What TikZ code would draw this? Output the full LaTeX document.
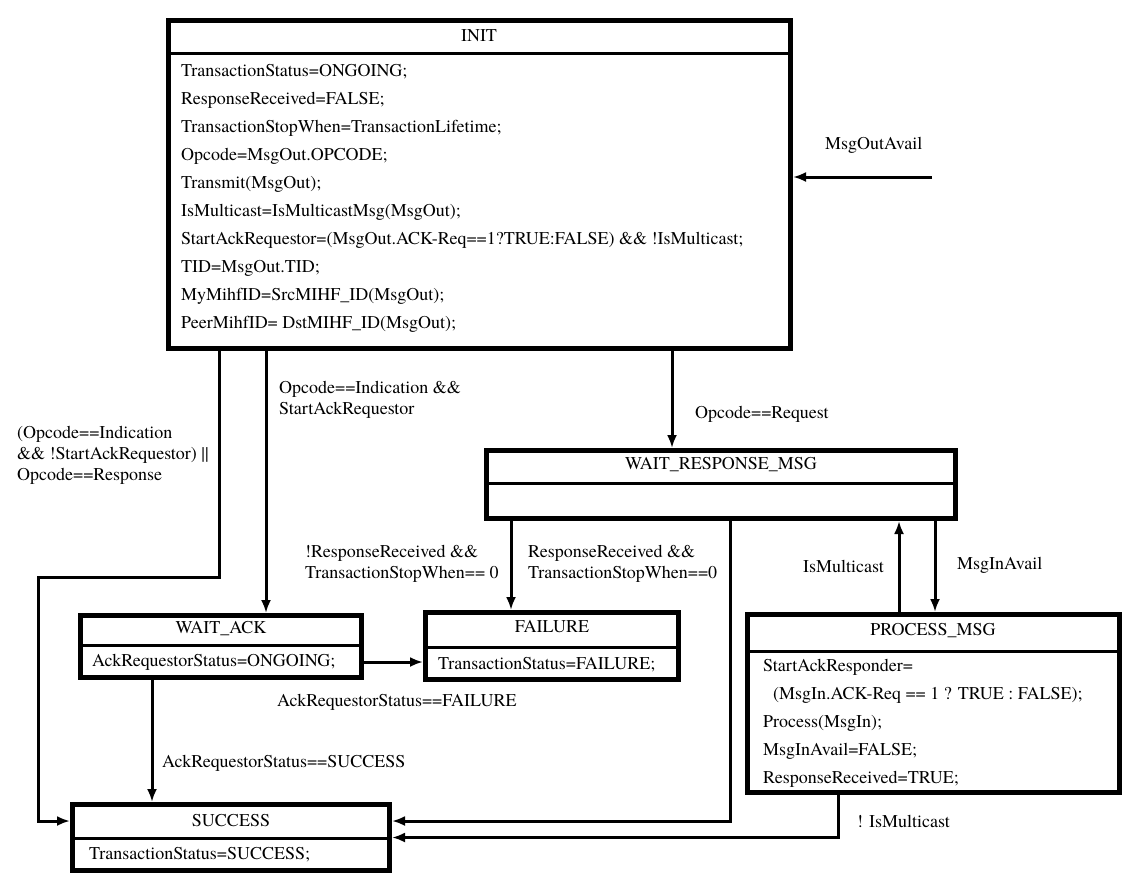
\documentclass[tikz,border=0pt]{standalone}
\usepackage{fontspec}
\setmainfont{texgyretermes}[Extension=.otf, UprightFont=*-regular, BoldFont=*-bold, ItalicFont=*-italic, BoldItalicFont=*-bolditalic]
\usetikzlibrary{arrows.meta}

\begin{document}
\begin{tikzpicture}[x=1pt, y=-1pt,
    state/.style={draw, line width=5pt, inner sep=0pt, anchor=north west},
    divline/.style={line width=3pt},
    title/.style={inner sep=0pt, font=\fontsize{18}{21}\selectfont},
    body/.style={inner sep=0pt, align=left, font=\fontsize{18}{28}\selectfont},
    lbl/.style={inner sep=0pt, align=left, font=\fontsize{18}{21}\selectfont},
    line/.style={line width=3pt, -{Latex[length=13pt,width=10pt]}}
]
\useasboundingbox (0,0) rectangle (1143,889);

\node[state, minimum width=622, minimum height=328] (init) at (166,18) {};
\draw[divline] (init.west |- 0,53) -- (init.east |- 0,53);
\node[title] (init-t) at (479,36) {INIT};
\node[body, anchor=north west] (init-b) at (181,64) {
TransactionStatus=ONGOING;\\
ResponseReceived=FALSE;\\
TransactionStopWhen=TransactionLifetime;\\
Opcode=MsgOut.OPCODE;\\
Transmit(MsgOut);\\
IsMulticast=IsMulticastMsg(MsgOut);\\
StartAckRequestor=(MsgOut.ACK-Req==1?TRUE:FALSE) \&\& !IsMulticast;\\
TID=MsgOut.TID;\\
MyMihfID=SrcMIHF\_ID(MsgOut);\\
PeerMihfID= DstMIHF\_ID(MsgOut);
};

\node[state, minimum width=469, minimum height=68] (waitresp) at (484,448) {};
\draw[divline] (waitresp.west |- 0,483) -- (waitresp.east |- 0,483);
\node[title] (waitresp-t) at (721,465) {WAIT\_RESPONSE\_MSG};

\node[state, minimum width=281, minimum height=62] (waitack) at (78,613) {};
\draw[divline] (waitack.west |- 0,645) -- (waitack.east |- 0,645);
\node[title] (waitack-t) at (221,629) {WAIT\_ACK};
\node[body, anchor=west] (waitack-b) at (92,662) {AckRequestorStatus=ONGOING;};

\node[state, minimum width=253, minimum height=67] (failure) at (423,610) {};
\draw[divline] (failure.west |- 0,647) -- (failure.east |- 0,647);
\node[title] (failure-t) at (552,627) {FAILURE};
\node[body, anchor=west] (failure-b) at (438,665) {TransactionStatus=FAILURE;};

\node[state, minimum width=372, minimum height=178] (procmsg) at (745,612) {};
\draw[divline] (procmsg.west |- 0,651) -- (procmsg.east |- 0,651);
\node[title] (procmsg-t) at (933,631) {PROCESS\_MSG};
\node[body, anchor=north west] (procmsg-b) at (763,659) {
StartAckResponder=\\
\hspace{10pt}(MsgIn.ACK-Req == 1 ? TRUE : FALSE);\\
Process(MsgIn);\\
MsgInAvail=FALSE;\\
ResponseReceived=TRUE;
};

\node[state, minimum width=317, minimum height=66] (success) at (70,802) {};
\draw[divline] (success.west |- 0,838) -- (success.east |- 0,838);
\node[title] (success-t) at (231,821) {SUCCESS};
\node[body, anchor=west] (success-b) at (89,855) {TransactionStatus=SUCCESS;};

\coordinate (msgsrc) at (932,177);
\draw[line] (msgsrc) -- (init.east |- msgsrc);
\node[lbl, anchor=west] (l-msgout) at (825,145) {MsgOutAvail};

\draw[line] (init.south -| 219,0) |- (38,577) |- (success.west |- success-t);
\node[lbl, anchor=north west] (l-resp) at (17,426) {(Opcode==Indication\\\&\& !StartAckRequestor) ||\\Opcode==Response};

\draw[line] (init.south -| 266,0) -- (waitack.north -| 266,0);
\node[lbl, anchor=north west] (l-ind) at (279,381) {Opcode==Indication \&\&\\StartAckRequestor};

\draw[line] (init.south -| 672,0) -- (waitresp.north -| 672,0);
\node[lbl, anchor=west] (l-req) at (695,414) {Opcode==Request};

\draw[line] (waitresp.south -| 511,0) -- (failure.north -| 511,0);
\node[lbl, anchor=north west] (l-fail) at (305,545) {!ResponseReceived \&\&\\TransactionStopWhen== 0};
\node[lbl, anchor=north west] (l-done) at (528,545) {ResponseReceived \&\&\\TransactionStopWhen==0};

\draw[line] (waitresp.south -| 730,0) |- (success.east |- success-t);

\draw[line] (waitack.east |- waitack-b) -- (failure.west |- waitack-b);
\node[lbl, anchor=west] (l-ackfail) at (277,702) {AckRequestorStatus==FAILURE};

\draw[line] (waitack.south -| 152,0) -- (success.north -| 152,0);
\node[lbl, anchor=west] (l-ackok) at (162,763) {AckRequestorStatus==SUCCESS};

\draw[line] (procmsg.north -| 899,0) -- (waitresp.south -| 899,0);
\node[lbl, anchor=east] (l-multi) at (884,566) {IsMulticast};

\draw[line] (waitresp.south -| 935,0) -- (procmsg.north -| 935,0);
\node[lbl, anchor=west] (l-msgin) at (957,565) {MsgInAvail};

\draw[line] (procmsg.south -| 838,0) |- (success.east);
\node[lbl, anchor=west] (l-unicast) at (857,821) {! IsMulticast};

\end{tikzpicture}
\end{document}
